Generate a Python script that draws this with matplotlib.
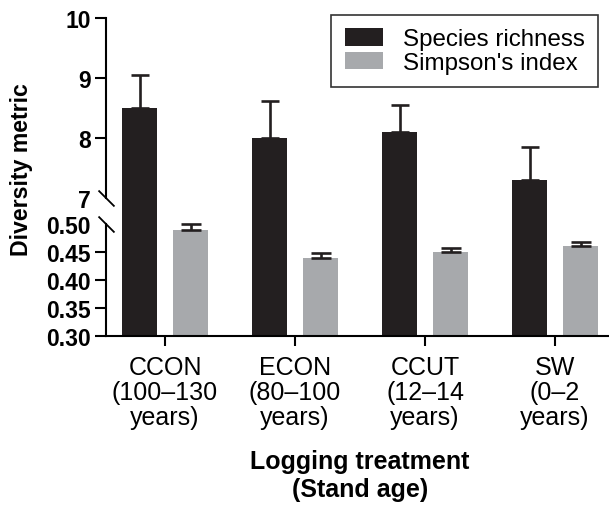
import numpy as np
import matplotlib
matplotlib.use("Agg")
import matplotlib.pyplot as plt

# values
treatments = ["CCON\n(100–130\nyears)", "ECON\n(80–100\nyears)",
              "CCUT\n(12–14\nyears)", "SW\n(0–2\nyears)"]
richness = [8.5, 8.0, 8.1, 7.3]
richness_err = [0.55, 0.62, 0.45, 0.55]
simpson = [0.49, 0.44, 0.45, 0.46]
simpson_err = [0.010, 0.009, 0.008, 0.008]

y_ticks = [0.30, 0.35, 0.40, 0.45, 0.50, 7, 8, 9, 10]
y_labels = ["0.30", "0.35", "0.40", "0.45", "0.50", "7", "8", "9", "10"]

BLACK = "#231f20"
GREY = "#a7a9ac"

plt.rcParams["font.family"] = ["Liberation Sans", "DejaVu Sans"]


# broken axis: 0.30-0.50 at the bottom, 7-10 on top, squeezed gap between
def fwd(y):
    y = np.asarray(y, dtype=float)
    return np.where(y <= 0.5, (y - 0.3) * 560,
                    np.where(y < 7, 112 + (y - 0.5) * 4, 138 + (y - 7) * 60))


def inv(v):
    v = np.asarray(v, dtype=float)
    return np.where(v <= 112, 0.3 + v / 560,
                    np.where(v < 138, 0.5 + (v - 112) / 4, 7 + (v - 138) / 60))


fig = plt.figure(figsize=(6.09, 5.06), dpi=100)
ax = fig.add_axes([106 / 609, 169 / 506, 503 / 609, 318 / 506])
ax.set_yscale("function", functions=(fwd, inv))

x = np.arange(len(treatments))
w = 0.27
off = 0.196
ax.bar(x - off, np.array(richness) - 0.3, bottom=0.3, width=w, color=BLACK,
       label="Species richness", zorder=2)
ax.bar(x + off, np.array(simpson) - 0.3, bottom=0.3, width=w, color=GREY,
       label="Simpson's index", zorder=2)
ax.errorbar(x - off, richness, yerr=[[0] * 4, richness_err], fmt="none",
            ecolor=BLACK, elinewidth=1.9, capsize=6.5, capthick=1.9, zorder=3)
ax.errorbar(x + off, simpson, yerr=[[0] * 4, simpson_err], fmt="none",
            ecolor=BLACK, elinewidth=1.9, capsize=7, capthick=1.9, zorder=3)

xl = -0.454
ax.set_xlim(xl, 3.415)
ax.set_ylim(0.3, 10)

ax.set_yticks(y_ticks)
ax.set_yticklabels(y_labels, fontsize=16.5, fontweight="bold")
ax.yaxis.set_minor_locator(matplotlib.ticker.NullLocator())
ax.tick_params(axis="y", length=8, width=1.5, pad=3)
for i in (4, 5):
    ax.yaxis.get_major_ticks()[i].tick1line.set_visible(False)

ax.set_xticks(x)
ax.set_xticklabels(treatments, fontsize=18, linespacing=1.05)
ax.tick_params(axis="x", length=7, width=1.5, pad=7)

for s in ("top", "right", "left"):
    ax.spines[s].set_visible(False)
ax.spines["bottom"].set_linewidth(1.5)

# left spine in two pieces plus break marks
ax.plot([xl, xl], [0.3, 0.5], color="black", lw=1.5, clip_on=False, zorder=4)
ax.plot([xl, xl], [7, 10], color="black", lw=1.5, clip_on=False, zorder=4)
for yb in (7, 0.5):
    ax.plot([xl], [yb], marker=[(-1, 1), (1, -1)], markersize=11.5,
            mew=1.3, color="black", clip_on=False, zorder=4)

ax.set_ylabel("Diversity metric", fontsize=16.7, fontweight="bold")
ax.yaxis.set_label_coords(-0.167, 0.525)
ax.yaxis.label.set_va("center")
ax.set_xlabel("Logging treatment\n(Stand age)", fontsize=18, fontweight="bold")
ax.xaxis.set_label_coords(0.505, -0.355)
ax.xaxis.label.set_va("top")

leg = ax.legend(loc="upper right", bbox_to_anchor=(0.978, 1.01), fontsize=17.4,
                frameon=True, fancybox=False, borderaxespad=0, borderpad=0.55,
                handlelength=1.6, handleheight=0.75, handletextpad=0.8,
                labelspacing=0.05)
leg.get_frame().set_edgecolor("black")
leg.get_frame().set_linewidth(1.2)

fig.savefig("out.png", dpi=100)
